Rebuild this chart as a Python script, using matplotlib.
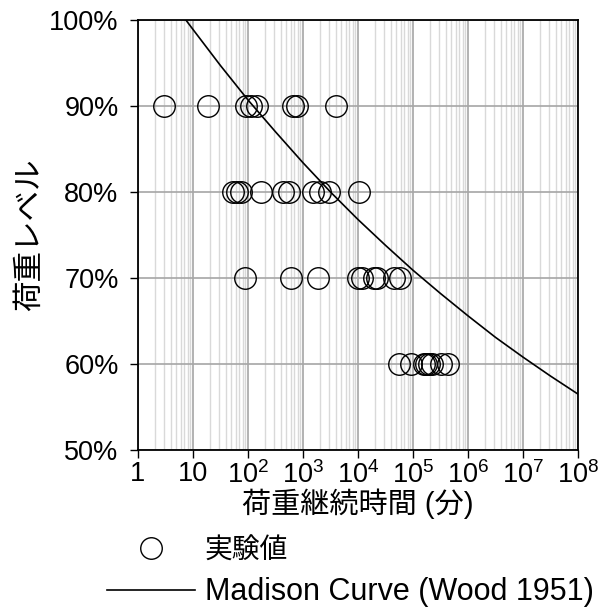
import matplotlib
matplotlib.use("Agg")
from matplotlib import pyplot as plt
from matplotlib.lines import Line2D
from matplotlib.ticker import FixedLocator, NullFormatter

plt.rcParams['font.family'] = ['Liberation Sans', 'Noto Sans CJK JP', 'DejaVu Sans']
plt.rcParams['mathtext.fontset'] = 'custom'
plt.rcParams['mathtext.rm'] = 'Liberation Sans'
plt.rcParams['mathtext.default'] = 'regular'

# 実験値 (荷重継続時間 [分], 荷重レベル [%])
t_90 = [3.0, 19, 92, 113, 144, 650, 790, 3900]
t_80 = [53, 63, 75, 172, 433, 556, 1515, 2040, 2970, 10500]
t_70 = [88, 605, 1870, 10200, 11800, 19500, 22000, 45000, 59000]
t_60 = [56000, 92000, 158000, 173000, 196000, 220000, 320000, 430000]
levels = [90, 80, 70, 60]

# Madison curve
curve_t = [6.3, 10, 31.6, 100, 316, 1e3, 3160, 1e4, 31600, 1e5,
           316000, 1e6, 3.16e6, 1e7, 3.16e7, 1e8]
curve_sl = [100.6, 98.9, 94.7, 90.7, 87.0, 83.4, 80.0, 76.8, 73.8, 70.9,
            68.2, 65.6, 63.1, 60.8, 58.6, 56.5]

yticks = [50, 60, 70, 80, 90, 100]
ylabels = ['50%', '60%', '70%', '80%', '90%', '100%']
xticks = [1, 10, 1e2, 1e3, 1e4, 1e5, 1e6, 1e7, 1e8]
xlabels = ['1', '10', '10$^2$', '10$^3$', '10$^4$', '10$^5$', '10$^6$', '10$^7$', '10$^8$']

fig = plt.figure(figsize=(6.03, 6.07), dpi=100)
ax = fig.add_axes([138 / 603, 1 - 450 / 607, 440 / 603, 430 / 607])

ax.set_xscale('log')
ax.set_xlim(1, 1e8)
ax.set_ylim(50, 100)

minors = [m * 10 ** d for d in range(8) for m in range(2, 10)]
ax.xaxis.set_major_locator(FixedLocator(xticks))
ax.xaxis.set_minor_locator(FixedLocator(minors))
ax.xaxis.set_minor_formatter(NullFormatter())
ax.set_xticklabels(xlabels)
ax.set_yticks(yticks)
ax.set_yticklabels(ylabels)

ax.grid(True, which='major', color='#a6a6a6', linewidth=1.2, zorder=0)
ax.grid(True, which='minor', axis='x', color='#d9d9d9', linewidth=1.0, zorder=0)
ax.set_axisbelow(True)

ax.tick_params(which='major', direction='out', length=6, width=1, labelsize=19.5)
ax.tick_params(axis='y', pad=8)
ax.tick_params(axis='x', pad=2)
ax.tick_params(which='minor', length=0)
for sp in ax.spines.values():
    sp.set_linewidth(1.3)
    sp.set_color('black')

for lv, ts in zip(levels, [t_90, t_80, t_70, t_60]):
    ax.plot(ts, [lv] * len(ts), linestyle='none', marker='o', markersize=15.5,
            markerfacecolor='none', markeredgecolor='black', markeredgewidth=1.0,
            zorder=3)

ax.plot(curve_t, curve_sl, color='black', linewidth=1.2, zorder=4)

ax.set_xlabel('荷重継続時間 (分)', fontsize=21, labelpad=0)
ax.set_ylabel('荷重レベル', fontsize=22, labelpad=3)

handles = [
    Line2D([], [], linestyle='none', marker='o', markersize=15.5,
           markerfacecolor='none', markeredgecolor='black', markeredgewidth=1.0),
    Line2D([], [], color='black', linewidth=1.2),
]
leg = fig.legend(handles, ['実験値', 'Madison Curve (Wood 1951)'],
                 loc='upper left', bbox_to_anchor=(96 / 603, 1 - 527 / 607),
                 frameon=False, fontsize=20, handlelength=3.15, handletextpad=0.36,
                 labelspacing=0.45, borderaxespad=0)
leg.get_texts()[1].set_fontsize(22)

fig.savefig('out.png', dpi=100)
